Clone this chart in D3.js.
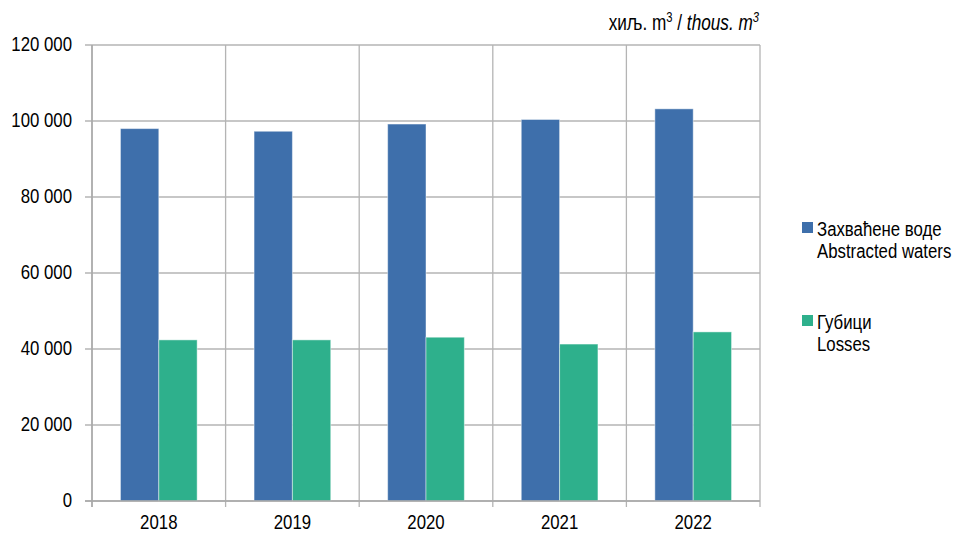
<!DOCTYPE html>
<html><head><meta charset="utf-8">
<script src="https://cdn.jsdelivr.net/npm/d3@7"></script>
<style>
body{margin:0;background:#fff;}
text{font-family:"Liberation Sans",Arial,sans-serif;fill:#000;}
</style></head><body>
<svg id="c" width="958" height="533"></svg>
<script>
const years = ["2018","2019","2020","2021","2022"];
const abstracted = [98000, 97300, 99200, 100400, 103200];
const losses = [42400, 42400, 43100, 41300, 44500];
const yTicks = [0, 20000, 40000, 60000, 80000, 100000, 120000];
const seriesNames = [["Захваћене воде","Abstracted waters"],["Губици","Losses"]];
const colors = ["#3e6fab","#2eb08c"];
const SX = 0.8;

const svg = d3.select("#c");
const L=92, R=760, T=45, B=501;
const x = d3.scaleBand().domain(years).range([L,R]).paddingInner(0).paddingOuter(0);
const y = d3.scaleLinear().domain([0,120000]).range([B,T]);
const fmt = v => d3.format(",")(v).replace(/,/g," ");

function ntext(parent, px, py, anchor, size){
  return parent.append("g").attr("transform",`translate(${px},${py}) scale(${SX},1)`)
    .append("text").attr("x",0).attr("y",0).attr("text-anchor",anchor).attr("font-size",size);
}

// horizontal grid
svg.append("g").selectAll("line").data(yTicks).join("line")
  .attr("x1",L-7).attr("x2",R).attr("y1",d=>y(d)).attr("y2",d=>y(d))
  .attr("stroke","#b4b4b4").attr("stroke-width",1.3);
// vertical grid
const bounds = years.map(d=>x(d)).concat([R]);
svg.append("g").selectAll("line").data(bounds).join("line")
  .attr("x1",d=>d).attr("x2",d=>d).attr("y1",T).attr("y2",B+6)
  .attr("stroke","#b4b4b4").attr("stroke-width",1.3);

// bars
const bw = x.bandwidth()*0.287;
const off = (x.bandwidth()-2*bw)/2;
[abstracted, losses].forEach((arr,i)=>{
  svg.append("g").selectAll("rect").data(arr).join("rect")
    .attr("x",(d,j)=>x(years[j])+off+i*bw)
    .attr("y",d=>y(d)).attr("width",bw).attr("height",d=>B-y(d))
    .attr("fill",colors[i]).attr("stroke","rgba(255,255,255,0.45)").attr("stroke-width",1);
});

// axis lines
svg.append("line").attr("x1",L).attr("x2",L).attr("y1",T).attr("y2",B+6).attr("stroke","#a8a8a8").attr("stroke-width",1.5);
svg.append("line").attr("x1",L-7).attr("x2",R).attr("y1",B).attr("y2",B).attr("stroke","#a8a8a8").attr("stroke-width",1.5);

// y labels
yTicks.forEach(d=>{
  ntext(svg, 72, y(d), "end", 21).attr("dy","0.3em").text(fmt(d));
});
// x labels
years.forEach(d=>{
  ntext(svg, x(d)+x.bandwidth()/2, 529, "middle", 21).text(d);
});

// unit title
const t = ntext(svg, 759, 30, "end", 21.5);
t.append("tspan").attr("font-style","normal").text("хиљ. m");
t.append("tspan").attr("font-size",14).attr("dy",-8).text("3");
t.append("tspan").attr("dy",8).text(" / ");
t.append("tspan").attr("font-style","italic").text("thous. m");
t.append("tspan").attr("font-style","italic").attr("font-size",14).attr("dy",-8).text("3");

// legend
const ly = [222, 315];
seriesNames.forEach((nm,i)=>{
  svg.append("rect").attr("x",802).attr("y",ly[i]).attr("width",11).attr("height",11).attr("fill",colors[i]);
  ntext(svg, 817, ly[i]+13.5, "start", 21).text(nm[0]);
  ntext(svg, 817, ly[i]+35.5, "start", 21).text(nm[1]);
});
</script></body></html>
